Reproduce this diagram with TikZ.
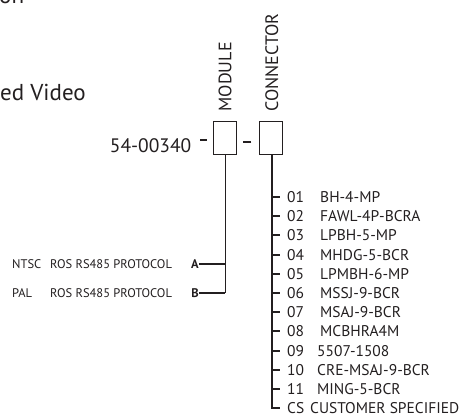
\documentclass[tikz,border=0pt]{standalone}
\usepackage{fontspec}
\setmainfont{PT Sans}
\usetikzlibrary{positioning}
\definecolor{ink}{HTML}{231F20}

\begin{document}
\begin{tikzpicture}[
x=1pt, y=-1pt,
node distance=8.0pt,
every node/.style={text=ink},
heading/.style={font=\fontsize{23}{24}\selectfont, inner sep=0pt, anchor=base west},
partnum/.style={font=\fontsize{19.5}{20}\selectfont, inner sep=0pt, anchor=base east},
partbox/.style={draw=ink, line width=0.9pt, minimum width=23pt, minimum height=33pt, inner sep=0pt},
fieldlabel/.style={font=\fontsize{18}{18}\selectfont, rotate=90, anchor=west, inner sep=0pt},
sepdash/.style={draw=ink, line width=1.8pt},
branch/.style={draw=ink, line width=0.9pt},
leg/.style={draw=ink, line width=2.3pt},
conline/.style={draw=ink, line width=2pt, line join=miter},
tick/.style={draw=ink, line width=2pt},
optrow/.style={font=\fontsize{12.5}{12.5}\selectfont, anchor=west, inner sep=0pt, text height=8.8pt, text depth=0pt},
conrow/.style={font=\fontsize{15.5}{15.5}\selectfont, inner sep=0pt, text height=10.8pt, text depth=0pt}
]
\useasboundingbox (0,0) rectangle (461,415);
\clip (0,0) rectangle (461,415);
% cut-off heading lines
\node[heading] (headtop) at (-1,4) {on};
\node[heading] (headvideo) at (0,100) {ed Video};
% part number and fields
\node[partbox] (mod) at (225,137.5) {};
\node[partbox, right=22pt of mod] (conn) {};
\node[fieldlabel] (modlabel) at ([yshift=9pt]mod.north) {MODULE};
\node[fieldlabel] (connlabel) at ([shift={(1,-9)}]conn.north) {CONNECTOR};
\node[partnum] (partno) at ([shift={(-21.5,-2)}]mod.south west) {54-00340};
\draw[sepdash] ([shift={(-6.5,2.5)}]mod.west) -- ++(-7,0);
\draw[sepdash] ([shift={(-7.5,4.5)}]conn.west) -- ++(-8,0);
% module options
\node[optrow] (ntsc) at (12,264) {NTSC};
\node[optrow] (protA) at (50,264) {ROS RS485 PROTOCOL};
\node[optrow, font=\fontsize{12.5}{12.5}\selectfont\bfseries, anchor=east] (a) at (199,264) {A};
\node[optrow] (pal) at (12,293) {PAL};
\node[optrow] (protB) at (50,293) {ROS RS485 PROTOCOL};
\node[optrow, font=\fontsize{12.5}{12.5}\selectfont\bfseries, anchor=east] (b) at (199,293) {B};
\coordinate (mb) at (mod.south |- b.east);
\draw[branch] (mod.south) -- (mb);
\draw[leg] (a.east) -- (a.east -| mod.south);
\draw[leg] (b.east) -- (mb);
% connector options
\node[conrow, anchor=west] (c01) at (287,197) {\makebox[33pt][l]{01}BH-4-MP};
\node[conrow, below=of c01.south west, anchor=north west] (c02) {\makebox[33pt][l]{02}FAWL-4P-BCRA};
\node[conrow, below=of c02.south west, anchor=north west] (c03) {\makebox[33pt][l]{03}LPBH-5-MP};
\node[conrow, below=of c03.south west, anchor=north west] (c04) {\makebox[33pt][l]{04}MHDG-5-BCR};
\node[conrow, below=of c04.south west, anchor=north west] (c05) {\makebox[33pt][l]{05}LPMBH-6-MP};
\node[conrow, below=of c05.south west, anchor=north west] (c06) {\makebox[33pt][l]{06}MSSJ-9-BCR};
\node[conrow, below=of c06.south west, anchor=north west] (c07) {\makebox[33pt][l]{07}MSAJ-9-BCR};
\node[conrow, below=of c07.south west, anchor=north west] (c08) {\makebox[33pt][l]{08}MCBHRA4M};
\node[conrow, below=of c08.south west, anchor=north west] (c09) {\makebox[30pt][l]{09}5507-1508};
\node[conrow, below=of c09.south west, anchor=north west] (c10) {\makebox[30pt][l]{10}CRE-MSAJ-9-BCR};
\node[conrow, below=of c10.south west, anchor=north west] (c11) {\makebox[30pt][l]{11}MING-5-BCR};
\node[conrow, below=of c11.south west, anchor=north west] (ccs) {\makebox[23pt][l]{CS}CUSTOMER SPECIFIED};
\coordinate (cl) at ([xshift=1.5pt]conn.south);
\draw[conline] (cl) -- (cl |- ccs.west) -- ++(8,0);
\draw[tick] (cl |- c01.west) -- ++(8,0);
\draw[tick] (cl |- c02.west) -- ++(8,0);
\draw[tick] (cl |- c03.west) -- ++(8,0);
\draw[tick] (cl |- c04.west) -- ++(8,0);
\draw[tick] (cl |- c05.west) -- ++(8,0);
\draw[tick] (cl |- c06.west) -- ++(8,0);
\draw[tick] (cl |- c07.west) -- ++(8,0);
\draw[tick] (cl |- c08.west) -- ++(8,0);
\draw[tick] (cl |- c09.west) -- ++(8,0);
\draw[tick] (cl |- c10.west) -- ++(8,0);
\draw[tick] (cl |- c11.west) -- ++(8,0);
\end{tikzpicture}
\end{document}
